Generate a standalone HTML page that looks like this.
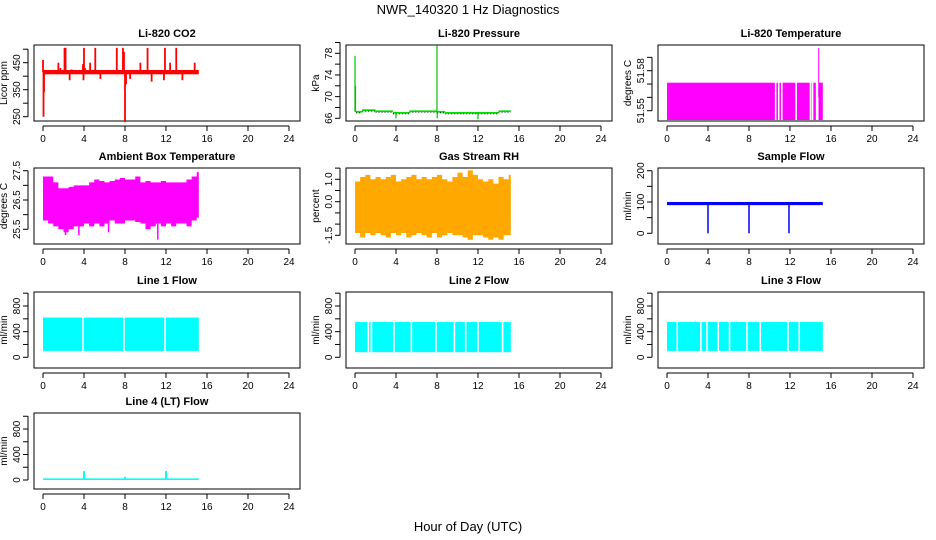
<!DOCTYPE html>
<html><head><meta charset="utf-8"><style>
html,body{margin:0;padding:0;background:#fff}
svg{display:block;font-family:"Liberation Sans",sans-serif}
</style></head><body>
<svg id="chart" width="936" height="540" viewBox="0 0 936 540">
<text x="468" y="14" text-anchor="middle" font-size="13">NWR_140320  1 Hz Diagnostics</text>
<text x="468" y="531" text-anchor="middle" font-size="13">Hour of Day (UTC)</text>
</svg>
<script>
// ---- data ----
const xTicks=[0,4,8,12,16,20,24];
const envTimes=[0,0.5,1,1.5,2,2.5,3,3.5,4,4.5,5,5.5,6,6.5,7,7.5,8,8.5,9,9.5,10,10.5,11,11.5,12,12.5,13,13.5,14,14.5,15];
const co2Base=[407,423];
const co2SpikeT=[0.0,0.05,0.1,1.5,1.7,2.1,2.2,2.6,2.8,3.2,3.9,3.95,4.0,4.1,4.6,5.1,5.6,6.4,7.2,7.8,7.9,8.0,8.1,8.5,9.5,10.2,10.6,11.2,11.8,11.9,12.4,13.0,13.6,14.4,14.8];
const co2SpikeV=[460,250,340,450,430,505,505,385,425,410,445,385,505,430,450,505,390,410,505,505,490,230,370,390,450,505,380,410,385,505,450,505,385,410,450];
const presSegT=[[0.1,0.7],[0.7,2.0],[2.0,3.7],[3.7,5.3],[5.3,8.0],[8.0,8.8],[8.8,14.0],[14.0,15.2]];
const presSegV=[67.2,67.5,67.3,67.0,67.3,67.2,67.0,67.3];
const presSpikeT=[0.0,0.05,4.0,8.0,8.02,12.0];
const presSpikeV=[77.5,72.0,66.0,79.5,66.0,65.8];
const tempBand=[51.543,51.571];
const tempGaps=[10.6,10.9,11.2,12.6,14.0,14.2,14.6,14.7];
const tempSpikeT=[14.8];const tempSpikeV=[51.597];
const ambUpper=[27.3,27.3,27.1,26.9,26.9,26.95,27.0,27.0,27.0,27.1,27.2,27.15,27.1,27.15,27.2,27.25,27.2,27.2,27.3,27.1,27.15,27.1,27.1,27.15,27.1,27.1,27.1,27.1,27.2,27.3,27.45];
const ambLower=[25.8,25.7,25.6,25.5,25.4,25.5,25.6,25.6,25.7,25.6,25.7,25.6,25.7,25.8,25.7,25.7,25.8,25.8,25.75,25.7,25.5,25.6,25.7,25.6,25.7,25.6,25.7,25.7,25.6,25.8,25.9];
const ambDipT=[2.2,3.5,6.4,11.2];const ambDipV=[25.3,25.3,25.4,25.15];
const rhUpper=[0.9,1.1,1.2,1.0,1.1,1.0,1.1,1.2,0.9,1.0,1.1,1.2,1.0,1.1,1.0,1.1,1.2,1.0,0.9,1.1,1.3,1.1,1.4,1.2,1.0,0.9,1.0,0.8,1.1,1.0,1.2];
const rhLower=[-1.4,-1.6,-1.4,-1.5,-1.4,-1.5,-1.6,-1.4,-1.5,-1.4,-1.6,-1.5,-1.4,-1.5,-1.6,-1.4,-1.6,-1.5,-1.4,-1.5,-1.5,-1.6,-1.7,-1.5,-1.5,-1.6,-1.7,-1.6,-1.7,-1.5,-1.5];
const rhLabels=['-1.5','0.0','1.0'];
const sfBand=[90,100];
const sfDipT=[4.0,8.0,11.9];const sfDipV=[0,0,0];
const l1Band=[100,620];const l1Gaps=[3.9,7.9,11.9];
const l2Band=[80,550];const l2Gaps=[1.3,1.6,3.8,5.5,7.9,9.7,10.8,12.0,14.4];
const l3Band=[100,550];const l3Gaps=[1.0,3.3,3.9,5.0,6.1,7.8,9.1,11.8,12.9];
const l4Band=[0,25];const l4SpikeT=[4.0,8.0,12.0];const l4SpikeV=[140,50,140];
const endT=15.2;

const NS='http://www.w3.org/2000/svg';
const svg=document.getElementById('chart');
function mk(tag,attrs,parent){const e=document.createElementNS(NS,tag);for(const k in attrs)e.setAttribute(k,attrs[k]);(parent||svg).appendChild(e);return e;}
const colL=[34,346,658],rowT=[45,168,292,413],W=266,H=76;

function panel(col,row,title,ylab,v0,p0,v1,p1,ticks,labels,name,labelText){
  const g=mk('g',{});
  
  
  const L=colL[col],T=rowT[row];
  const xs=t=>L+9+t*10.25;
  const ys=v=>p0+(v-v0)*(p1-p0)/(v1-v0);
  const box=mk('rect',{x:L,y:T,width:W,height:H,fill:'none',stroke:'#000','stroke-width':1},g);
  
  
  const tt=mk('text',{x:L+W/2,y:T-8,'text-anchor':'middle','font-size':11,'font-weight':'bold'},g);tt.textContent=title;
  
  
  mk('line',{x1:xs(0),x2:xs(24),y1:T+H+5,y2:T+H+5,stroke:'#000'},g);
  xTicks.forEach(t=>{mk('line',{x1:xs(t),x2:xs(t),y1:T+H+5,y2:T+H+10,stroke:'#000'},g);
    const tx=mk('text',{x:xs(t),y:T+H+21,'text-anchor':'middle','font-size':10},g);tx.textContent=t;
    
    });
  mk('line',{x1:L-6,x2:L-6,y1:ys(ticks[0]),y2:ys(ticks[ticks.length-1]),stroke:'#000'},g);
  ticks.forEach(v=>mk('line',{x1:L-11,x2:L-6,y1:ys(v),y2:ys(v),stroke:'#000'},g));
  labels.forEach((v,i)=>{const y=ys(v);const tx=mk('text',{x:L-14,y:y,'text-anchor':'middle','font-size':10,transform:`rotate(-90 ${L-14} ${y})`},g);tx.textContent=labelText?labelText[i]:String(v);
    
    });
  const yl=mk('text',{x:L-27,y:T+H/2,'text-anchor':'middle','font-size':10,transform:`rotate(-90 ${L-27} ${T+H/2})`},g);yl.textContent=ylab;
  
  
  return {g,xs,ys};
}
function band(p,lo,hi,color,gaps,name){
  const r=mk('rect',{x:p.xs(0),y:p.ys(hi),width:p.xs(endT)-p.xs(0),height:p.ys(lo)-p.ys(hi),fill:color},p.g);
  
  
  (gaps||[]).forEach(t=>mk('rect',{x:p.xs(t)-0.8,y:p.ys(hi)-1,width:1.6,height:p.ys(lo)-p.ys(hi)+1,fill:'#fff'},p.g));
}
function envelope(p,up,lo,fill,name){
  let d='M'+p.xs(envTimes[0])+','+p.ys(up[0]);
  envTimes.forEach((t,i)=>{const t2=i<envTimes.length-1?envTimes[i+1]:endT;d+='L'+p.xs(t)+','+p.ys(up[i])+'L'+p.xs(t2)+','+p.ys(up[i]);});
  for(let i=envTimes.length-1;i>=0;i--){const t2=i<envTimes.length-1?envTimes[i+1]:endT;d+='L'+p.xs(t2)+','+p.ys(lo[i])+'L'+p.xs(envTimes[i])+','+p.ys(lo[i]);}
  const e=mk('path',{d:d+'Z',fill:fill},p.g);
  
  
}
function spikes(p,ts,vs,base,color,w){ts.forEach((t,i)=>{const l=mk('line',{x1:p.xs(t),x2:p.xs(t),y1:p.ys(base),y2:p.ys(vs[i]),stroke:color,'stroke-width':w||1.2},p.g);
  
  });}

let p=panel(0,0,'Li-820 CO2','Licor ppm',250,116.7,450,62.7,[250,300,350,400,450,500],[250,350,450],'co2');
band(p,co2Base[0],co2Base[1],'#ff0000',[],'co2-series');spikes(p,co2SpikeT,co2SpikeV,415,'#ff0000',1.8);
p=panel(1,0,'Li-820 Pressure','kPa',66,118.3,78,53.3,[66,68,70,72,74,76,78,80],[66,70,74,78],'pressure');
presSegT.forEach((s,i)=>{const l=mk('line',{x1:p.xs(s[0]),x2:p.xs(s[1]),y1:p.ys(presSegV[i]),y2:p.ys(presSegV[i]),stroke:'#00e000','stroke-width':1.8},p.g);
  
  
  mk('line',{x1:p.xs(s[0]),x2:p.xs(s[1]),y1:p.ys(presSegV[i])+1,y2:p.ys(presSegV[i])+1,stroke:'#000','stroke-width':0.8,'stroke-dasharray':'1 2'},p.g);});
spikes(p,presSpikeT,presSpikeV,67.2,'#00c000',1.2);
p=panel(2,0,'Li-820 Temperature','degrees C',51.55,110.7,51.58,70.7,[51.55,51.56,51.57,51.58,51.59],[51.55,51.58],'li-temp');
band(p,tempBand[0],tempBand[1],'#ff00ff',tempGaps,'li-temp-series');spikes(p,tempSpikeT,tempSpikeV,51.56,'#ff00ff',1);
p=panel(0,1,'Ambient Box Temperature','degrees C',25.5,229.3,27.5,170.7,[25.5,26,26.5,27,27.5],[25.5,26.5,27.5],'ambient-temp');
envelope(p,ambUpper,ambLower,'#ff00ff','ambient-temp-series');spikes(p,ambDipT,ambDipV,26,'#ff00ff',1.5);
p=panel(1,1,'Gas Stream RH','percent',0,201.7,1,179.3,[-1.5,-1,-0.5,0,0.5,1,1.5],[-1.5,0,1],'rh',rhLabels);
envelope(p,rhUpper,rhLower,'#ffa800','rh-series');
p=panel(2,1,'Sample Flow','ml/min',0,233.3,200,170.7,[0,50,100,150,200],[0,100,200],'sample-flow');
band(p,sfBand[0],sfBand[1],'#0000ff',[],'sample-flow-series');spikes(p,sfDipT,sfDipV,95,'#0000ff',1.5);
[[0,'Line 1 Flow',l1Band,l1Gaps,'line1-flow'],[1,'Line 2 Flow',l2Band,l2Gaps,'line2-flow'],[2,'Line 3 Flow',l3Band,l3Gaps,'line3-flow']].forEach(c=>{
  const q=panel(c[0],2,c[1],'ml/min',0,357.3,800,306,[0,200,400,600,800,1000],[0,400,800],c[4]);
  band(q,c[2][0],c[2][1],'#00ffff',c[3],c[4]+'-series');});
p=panel(0,3,'Line 4 (LT) Flow','ml/min',0,480,800,429,[0,200,400,600,800,1000],[0,400,800],'line4-flow');
band(p,l4Band[0],l4Band[1],'#00ffff',[],'line4-flow-series');spikes(p,l4SpikeT,l4SpikeV,10,'#00ffff',2);
</script>
</body></html>
